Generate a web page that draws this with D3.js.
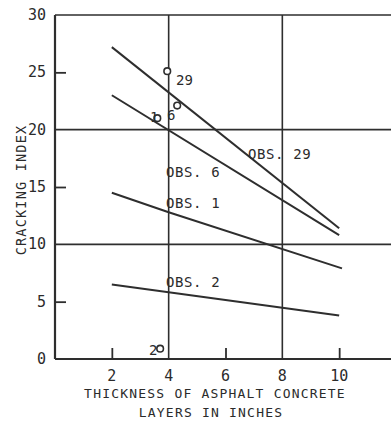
<!DOCTYPE html>
<html>
<head>
<meta charset="utf-8">
<script src="https://cdn.jsdelivr.net/npm/d3@7"></script>
<style>
  html, body { margin: 0; padding: 0; background: #fff; }
  svg { display: block; }
  text { font-family: "DejaVu Sans Mono", "Liberation Mono", monospace; fill: #2b2b2b; }
</style>
</head>
<body>
<svg id="chart" width="391" height="423"></svg>
<script>
// Cracking index vs. thickness of asphalt concrete layers
const seriesNames = ["OBS. 29", "OBS. 6", "OBS. 1", "OBS. 2"];
const lineThickness = [[2, 10], [2, 10], [2, 4, 10.1], [2, 10]];
const lineCracking = [[27.2, 11.4], [23.0, 10.8], [14.5, 12.8, 7.9], [6.5, 3.8]];

const pointLabels = ["29", "6", "1", "2"];
const pointThickness = [3.95, 4.3, 3.6, 3.7];
const pointCracking = [25.1, 22.1, 21.0, 0.9];

const xTickValues = [2, 4, 6, 8, 10];
const yTickValues = [0, 5, 10, 15, 20, 25, 30];
const xGridValues = [4, 8];
const yGridValues = [10, 20, 30];
const xInnerTicks = [2, 6, 10];
const yInnerTicks = [5, 15, 25];

const svg = d3.select("#chart");
const ink = "#2e2e2e";

const x = d3.scaleLinear().domain([0, 12]).range([55, 396]);
const y = d3.scaleLinear().domain([0, 30]).range([359, 15]);

// Grid lines
svg.append("g").selectAll("line").data(xGridValues).join("line")
  .attr("x1", d => x(d)).attr("x2", d => x(d))
  .attr("y1", y(30)).attr("y2", y(0))
  .attr("stroke", ink).attr("stroke-width", 1.6);
svg.append("g").selectAll("line").data(yGridValues).join("line")
  .attr("x1", x(0)).attr("x2", x(12))
  .attr("y1", d => y(d)).attr("y2", d => y(d))
  .attr("stroke", ink).attr("stroke-width", 1.6);

// Axes (inner ticks on minor values, labels drawn separately)
const xAxis = d3.axisBottom(x).tickValues(xInnerTicks).tickSize(-11).tickFormat("");
const gx = svg.append("g").attr("transform", `translate(0,${y(0)})`).call(xAxis);
gx.select(".domain").attr("d", `M${x(0)},0H${x(12)}`).attr("stroke", ink).attr("stroke-width", 2.2);
gx.selectAll(".tick line").attr("stroke", ink).attr("stroke-width", 1.8);

const yAxis = d3.axisLeft(y).tickValues(yInnerTicks).tickSize(-11).tickFormat("");
const gy = svg.append("g").attr("transform", `translate(${x(0)},0)`).call(yAxis);
gy.select(".domain").attr("d", `M0,${y(0)}V${y(30)}`).attr("stroke", ink).attr("stroke-width", 2.2);
gy.selectAll(".tick line").attr("stroke", ink).attr("stroke-width", 1.8);

// Tick labels
svg.append("g").selectAll("text").data(xTickValues).join("text")
  .attr("x", d => x(d)).attr("y", 381)
  .attr("text-anchor", "middle").attr("font-size", 15)
  .text(d => d);
svg.append("g").selectAll("text").data(yTickValues).join("text")
  .attr("x", 46).attr("y", d => y(d) + 5)
  .attr("text-anchor", "end").attr("font-size", 15)
  .text(d => d);

// Axis titles
svg.append("text").attr("x", 215).attr("y", 398)
  .attr("text-anchor", "middle").attr("font-size", 13).attr("letter-spacing", 1.2)
  .text("THICKNESS OF ASPHALT CONCRETE");
svg.append("text").attr("x", 211).attr("y", 417)
  .attr("text-anchor", "middle").attr("font-size", 13).attr("letter-spacing", 1.2)
  .text("LAYERS IN INCHES");
svg.append("text").attr("transform", "translate(26,190) rotate(-90)")
  .attr("text-anchor", "middle").attr("font-size", 13.5).attr("letter-spacing", 1.2)
  .text("CRACKING INDEX");

// Regression lines
const line = d3.line().x(d => x(d[0])).y(d => y(d[1]));
seriesNames.forEach((name, i) => {
  const pts = lineThickness[i].map((t, j) => [t, lineCracking[i][j]]);
  svg.append("path").datum(pts).attr("d", line)
    .attr("fill", "none").attr("stroke", ink).attr("stroke-width", 2);
});

// Series labels
const labelPos = [[248, 159], [166, 177], [166, 208], [166, 287]];
svg.append("g").selectAll("text").data(seriesNames).join("text")
  .attr("x", (d, i) => labelPos[i][0]).attr("y", (d, i) => labelPos[i][1])
  .attr("font-size", 14).attr("letter-spacing", 0.6)
  .text(d => d);

// Observed points
svg.append("g").selectAll("circle").data(pointLabels).join("circle")
  .attr("cx", (d, i) => x(pointThickness[i])).attr("cy", (d, i) => y(pointCracking[i]))
  .attr("r", 3.3).attr("fill", "#fff").attr("stroke", ink).attr("stroke-width", 1.6);

const pointLabelPos = [[176, 85], [167, 120], [150, 122], [149, 355]];
svg.append("g").selectAll("text").data(pointLabels).join("text")
  .attr("x", (d, i) => pointLabelPos[i][0]).attr("y", (d, i) => pointLabelPos[i][1])
  .attr("font-size", 14)
  .text(d => d);
</script>
</body>
</html>
